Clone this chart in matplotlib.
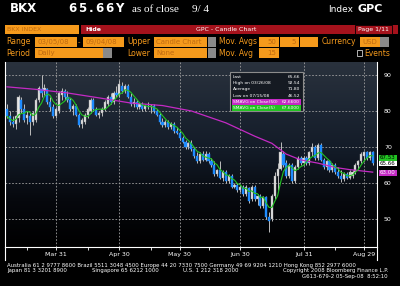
import numpy as np
import matplotlib.pyplot as plt
from matplotlib.patches import Rectangle
from matplotlib.colors import LinearSegmentedColormap

W, H = 400, 286

# daily candles 03/05/08 .. 09/04/08 (trading-day index)
opens = [80.5, 78.5, 77, 76.5, 78, 83, 80.5, 78, 78.5, 77, 77.5, 83, 86, 85.5, 86, 82.5, 81, 78.5,
         80, 84.5, 85.5, 84, 83, 80.5, 81.5, 79, 76.5, 77, 79, 80, 83, 80.5, 79, 79.5, 80.5, 82,
         84, 82.5, 85, 84.5, 87, 85.5, 87, 84, 82, 82.5, 81, 82, 80.5, 81.5, 81, 81.5, 80, 79,
         77, 76, 77, 75.5, 76.5, 74.5, 74, 72.5, 71.5, 70, 71, 69.5, 67.5, 66, 68, 66.5, 68, 66,
         65, 62.5, 63.5, 61.5, 63, 60.5, 62, 59, 59.5, 58, 59, 57, 58.5, 55.5, 59, 55.5, 56.5, 53.5,
         56, 50.5, 50, 56.5, 62, 64, 68, 65.5, 62, 65, 60.5, 64.5, 67, 65.5, 67, 65.5, 68.5, 70,
         67, 70.5, 66.5, 64.5, 66, 63.5, 65, 63, 62, 61, 62.5, 61.5, 62, 63, 65, 66, 67.5, 68.5,
         67, 68.5]
highs = [82, 80, 78.5, 79, 84.5, 84, 82, 80, 79.5, 80, 83.5, 87, 90, 87.5, 86.5, 84, 82, 81,
         85.5, 86.5, 86, 85.5, 83.5, 82, 82, 79.5, 78, 79.5, 81, 83.5, 83.5, 81, 80, 81, 83, 84.5,
         85, 85.5, 87, 88.5, 88, 87.5, 87.5, 85, 83.5, 83, 82.5, 82.5, 82, 82.5, 82, 82, 80.5, 79.5,
         78, 77.5, 77.5, 77, 77, 75.5, 74.5, 73, 72, 71.5, 72, 70, 68.5, 68.5, 69, 68.8, 68.5, 67,
         66, 64, 66, 63.5, 63.5, 62.5, 62.5, 60, 60, 59.5, 59.5, 59.5, 59, 59.5, 59.5, 57, 57, 56.5,
         56.5, 52, 57, 63, 65.5, 71.5, 69, 66.5, 65.5, 65.5, 65, 67.5, 67.5, 67.5, 67.5, 69, 71,
         70.5, 71, 71, 67, 66.5, 66.5, 65.5, 65.5, 64.5, 63.5, 63, 63, 63.5, 63.5, 65.5, 66.5, 68.5,
         69, 69, 69, 69]
lows = [78, 76, 75.5, 75, 77, 79.5, 77, 76.5, 73.3, 76, 77, 82.5, 84, 84.5, 82, 80, 78, 78,
        79.5, 83, 83, 82.5, 80, 79, 78.5, 75.5, 75.2, 76.5, 78, 79.5, 80, 78.5, 78, 78.5, 80, 81.5,
        82, 82, 84, 84, 85, 85, 83.5, 81.5, 81, 80.5, 80.5, 80, 80, 80.5, 79.5, 79.5, 78.5, 76.5,
        75.5, 75.5, 75, 75, 74, 73.5, 72, 71, 69.5, 69.5, 69, 67, 65.5, 65.5, 66, 66, 65.5, 64.5,
        62, 62, 61, 60.5, 60, 60, 58.5, 58.5, 57.5, 57.5, 56.5, 56.5, 54.5, 55, 55, 54, 53, 53,
        50, 46.5, 49.5, 55.5, 58, 63.5, 64.5, 61.5, 61.5, 60, 60, 64, 65, 65, 65, 65, 67.5,
        66.5, 66.5, 66, 64, 63.5, 63, 63, 62.5, 61.5, 60.3, 60.5, 61, 61, 61.5, 62.5, 64, 65.5,
        66, 66.5, 66.5, 65]
closes = [78.5, 77, 76.5, 78.5, 84, 80.5, 77.5, 79, 77, 79.5, 83, 86.5, 85, 86.5, 82.5, 81, 78.5, 80.5,
          85, 85.5, 84, 83, 80.5, 81.5, 79, 76, 77.5, 79, 80.5, 83, 80.5, 79, 79.5, 80.5, 82.5, 84,
          82.5, 85, 84.5, 87.5, 85.5, 87, 84, 82, 82.5, 81, 82, 80.5, 81.5, 81, 81.5, 80, 79, 77,
          76, 77, 75.5, 76.5, 74.5, 74, 72.5, 71.5, 70, 71, 69.5, 67.5, 66, 68, 66.5, 68, 66, 65,
          62.5, 63.5, 61.5, 63, 60.5, 62, 59, 59.5, 58, 59, 57, 59, 55, 59, 55.5, 56.5, 53.5, 56,
          50.5, 49.5, 56.5, 62, 64, 68.5, 65, 62, 65, 60.5, 64.5, 67, 65.5, 67, 65.5, 68.5, 70, 67,
          70.5, 66.5, 64.5, 66, 63.5, 65, 63, 62, 61, 62.5, 61.5, 63, 63, 65, 66, 68, 68.5, 67,
          68.5, 65.66]

# 50-day moving average
sma50_idx = [0, 10, 21, 33, 43, 54, 64, 76, 86, 92, 97, 102, 108, 114, 119, 127]
sma50_val = [86.7, 86, 85, 83.5, 82.2, 81.5, 80, 76.7, 73, 71, 68, 66.4, 65.5, 64.3, 63.7, 63]

major_idx = [17, 39, 60, 81, 103, 124]
major_lbl = ['Mar 31', 'Apr 30', 'May 30', 'Jun 30', 'Jul 31', 'Aug 29']
minor_idx = [7, 28, 50, 70, 91, 114]
y_ticks = [50, 60, 70, 80, 90]

info_lbl = ['Last', 'High on 03/26/08', 'Average', 'Low on 07/15/08',
            'SMAVG on Close(50)', 'SMAVG on Close(5)']
info_val = ['65.66', '92.54', '71.80', '46.52', '62.6600', '67.6000']

ORANGE = '#f59a1c'
ORANGE_TXT = '#c06a10'
RED = '#a5121c'
BLUE = '#1e8cff'
MAGENTA = '#c42ac4'
GREEN = '#22c322'


def fx(x):
    return x / W


def fy(y):
    return 1 - y / H


def ftext(x, y, s, **kw):
    kw.setdefault('color', 'white')
    kw.setdefault('va', 'center')
    fig.text(fx(x), fy(y), s, **kw)


def fbox(x0, y0, x1, y1, color, **kw):
    fig.add_artist(Rectangle((fx(x0), fy(y1)), (x1 - x0) / W, (y1 - y0) / H,
                             transform=fig.transFigure, facecolor=color, **kw))


fig = plt.figure(figsize=(4, 2.86), dpi=100, facecolor='black')

# ---- header ----
ftext(10, 9, 'BKX', fontsize=8.5, fontweight='bold')
# wide spaced price, like the terminal font
for ch, xc in zip('65.66Y', [68, 78, 88.5, 95, 105, 115]):
    ftext(xc, 9, ch, fontsize=8.5, fontweight='bold')
ftext(132, 10, 'as of close', fontsize=8, family='Liberation Serif')
ftext(192, 10, '9/ 4', fontsize=8, family='Liberation Serif')
ftext(328, 9, 'Index', fontsize=6.5)
ftext(357, 9, 'GPC', fontsize=8, fontweight='bold')

fbox(5, 25, 79, 34, ORANGE)
ftext(7, 29.5, 'BKX INDEX', fontsize=4.5, color=ORANGE_TXT)
fbox(81, 25, 398, 34, RED)
ftext(85, 29.5, 'Hide', fontsize=4.5, fontweight='bold')
ftext(196, 29.5, 'GPC - Candle Chart', fontsize=4.5)
fbox(355, 25, 392, 34, RED, edgecolor='black', linewidth=0.6)
ftext(358, 29.5, 'Page 1/11', fontsize=4.5)

# row 3
ftext(6, 42, 'Range', fontsize=5.5, color=ORANGE)
fbox(35, 37, 77, 47, ORANGE)
ftext(37, 42, '03/05/08', fontsize=5, color=ORANGE_TXT)
ftext(78, 42, '-', fontsize=5, color=ORANGE)
fbox(83, 37, 124, 47, ORANGE)
ftext(85, 42, '09/04/08', fontsize=5, color=ORANGE_TXT)
ftext(127, 42, 'Upper', fontsize=5.5, color=ORANGE)
fbox(154, 37, 207, 47, ORANGE)
ftext(156, 42, 'Candle Chart', fontsize=5, color=ORANGE_TXT)
fbox(208, 37, 216, 47, '#8a8a8a')
ftext(219, 42, 'Mov. Avgs', fontsize=5.5, color=ORANGE)
fbox(259, 37, 279, 47, ORANGE)
ftext(276, 42, '50', fontsize=5, color=ORANGE_TXT, ha='right')
fbox(280, 37, 299, 47, ORANGE)
ftext(296, 42, '5', fontsize=5, color=ORANGE_TXT, ha='right')
fbox(300, 37, 318, 47, ORANGE)
ftext(322, 42, 'Currency', fontsize=5.5, color=ORANGE)
fbox(360, 37, 380, 47, ORANGE)
ftext(362, 42, 'USD', fontsize=5, color=ORANGE_TXT)
fbox(380, 37, 389, 47, '#8a8a8a')

# row 4
ftext(6, 53, 'Period', fontsize=5.5, color=ORANGE)
fbox(35, 48, 103, 58, ORANGE)
ftext(37, 53, 'Daily', fontsize=5, color=ORANGE_TXT)
fbox(103, 48, 112, 58, '#8a8a8a')
ftext(127, 53, 'Lower', fontsize=5.5, color=ORANGE)
fbox(154, 48, 207, 58, ORANGE)
ftext(156, 53, 'None', fontsize=5, color=ORANGE_TXT)
fbox(208, 48, 216, 58, '#8a8a8a')
ftext(219, 53, 'Mov. Avg', fontsize=5.5, color=ORANGE)
fbox(259, 48, 279, 58, ORANGE)
ftext(276, 53, '15', fontsize=5, color=ORANGE_TXT, ha='right')
fbox(357, 50.5, 362, 55.5, 'black', edgecolor='#d0d0d0', linewidth=0.6)
ftext(364, 53, 'Events', fontsize=5.5, color=ORANGE)

# ---- chart ----
ax = fig.add_axes([fx(5), fy(247), 372 / W, (247 - 62) / H])
n = len(closes)
idx = np.arange(n)
o = np.array(opens)
c = np.array(closes)
x0, x1 = -0.7, 128.5
y0, y1 = 42.2, 93.6
ax.set_xlim(x0, x1)
ax.set_ylim(y0, y1)

bg = LinearSegmentedColormap.from_list('bg', ['#000000', '#06080d', '#121a26', '#1d2633', '#2a323d'])
grad = np.linspace(0, 1, 200).reshape(-1, 1)
ax.imshow(grad, extent=[x0, x1, y0, y1], origin='lower', aspect='auto', cmap=bg, zorder=0)

for v in y_ticks:
    ax.axhline(v, color='#a0a0a0', lw=0.6, ls=(0, (2, 2)), zorder=1)
for i in major_idx:
    ax.axvline(i, color='#a0a0a0', lw=0.6, ls=(0, (2, 2)), zorder=1)

ax.vlines(idx, lows, highs, color='#bdbdbd', lw=0.7, zorder=2)
up = c >= o
ax.bar(idx[up], (c - o)[up], bottom=o[up], width=0.75, color='#e6e6e6',
       edgecolor='#9a9a9a', linewidth=0.3, zorder=3)
ax.bar(idx[~up], (o - c)[~up], bottom=c[~up], width=0.75, color=BLUE,
       edgecolor=BLUE, linewidth=0.3, zorder=3)

sma5 = np.array([c[max(0, i - 4):i + 1].mean() for i in range(n)])
ax.plot(sma50_idx, sma50_val, color=MAGENTA, lw=0.9, zorder=4)
ax.plot(idx, sma5, color=GREEN, lw=0.8, zorder=5)

ax.set_xticks(major_idx)
ax.set_xticklabels(major_lbl)
ax.set_xticks(minor_idx, minor=True)
ax.tick_params(axis='x', which='both', colors='white', length=2, width=0.6,
               labelsize=4.5, pad=1.5)
ax.tick_params(axis='y', left=False, labelleft=False, right=True, labelright=True,
               colors='white', length=0, labelsize=4.5, pad=5)
ax.set_yticks(y_ticks)
ax.spines['top'].set_visible(False)
for s in ['left', 'right', 'bottom']:
    ax.spines[s].set_color('white')
    ax.spines[s].set_linewidth(0.8)

# frame below the chart
fig.add_artist(plt.Line2D([fx(5), fx(5)], [fy(247), fy(260)], color='white', lw=0.8))
fig.add_artist(plt.Line2D([fx(377), fx(377)], [fy(247), fy(260)], color='white', lw=0.8))

# info box
fbox(230, 72, 303, 111, '#151a22', edgecolor='#8c8c8c', linewidth=0.8)
for k, (lbl, val) in enumerate(zip(info_lbl, info_val)):
    yy = 77 + 6.2 * k
    if k == 4:
        fbox(232, yy - 2.8, 301, yy + 2.8, MAGENTA)
    if k == 5:
        fbox(232, yy - 2.8, 301, yy + 2.8, GREEN)
    ftext(233, yy, lbl, fontsize=3.2)
    ftext(300, yy, val, fontsize=3.2, ha='right')

# right-hand value flags
fbox(379, 155, 397, 161, GREEN)
ftext(380, 158, f'{sma5[-1]:.2f}', fontsize=4, color='black')
fbox(379, 161, 397, 166, 'white')
ftext(380, 163.5, f'{closes[-1]:.2f}', fontsize=4, color='black')
fbox(379, 170, 397, 176, MAGENTA)
ftext(380, 173, f'{sma50_val[-1]:.2f}', fontsize=4, color='white')

# footer
ftext(7, 265, 'Australia 61 2 9777 8600 Brazil 5511 3048 4500 Europe 44 20 7330 7500 '
      'Germany 49 69 9204 1210 Hong Kong 852 2977 6000', fontsize=3.9)
ftext(7, 270.5, 'Japan 81 3 3201 8900', fontsize=3.9)
ftext(92, 270.5, 'Singapore 65 6212 1000', fontsize=3.9)
ftext(183, 270.5, 'U.S. 1 212 318 2000', fontsize=3.9)
ftext(388, 270.5, 'Copyright 2008 Bloomberg Finance L.P.', fontsize=3.9, ha='right')
ftext(388, 276.5, 'G613-679-2 05-Sep-08  8:52:10', fontsize=3.9, ha='right')

fig.savefig('out.png', dpi=100, facecolor='black')
